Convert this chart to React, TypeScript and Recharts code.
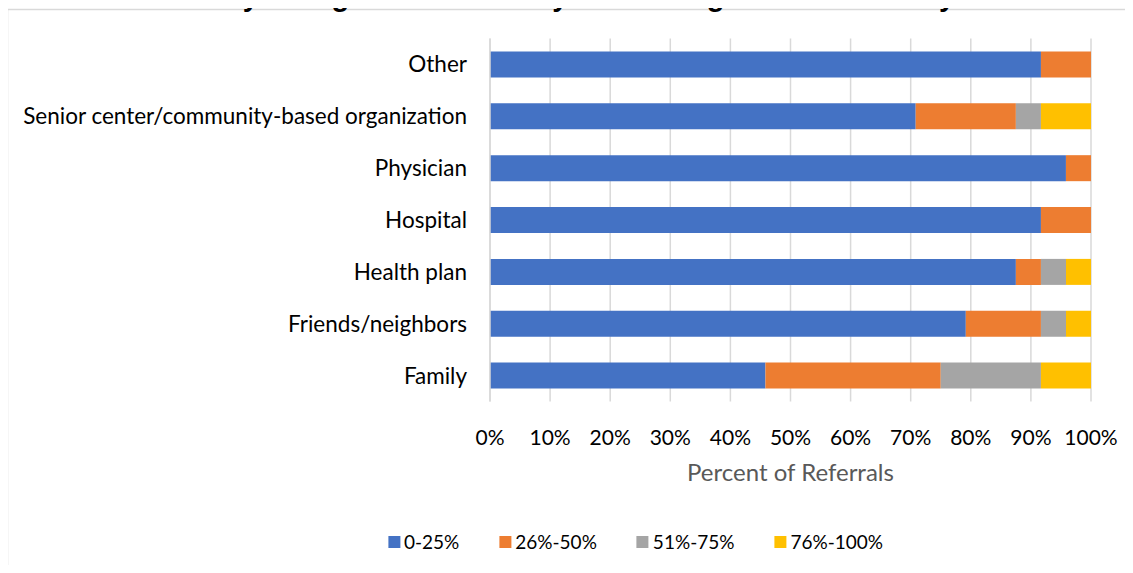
import React from "react";
import { BarChart, Bar, XAxis, YAxis, CartesianGrid } from "recharts";

const categories = [
  "Other",
  "Senior center/community-based organization",
  "Physician",
  "Hospital",
  "Health plan",
  "Friends/neighbors",
  "Family",
];
const s0to25 = [91.67, 70.83, 95.83, 91.67, 87.5, 79.17, 45.83];
const s26to50 = [8.33, 16.67, 4.17, 8.33, 4.17, 12.5, 29.17];
const s51to75 = [0, 4.17, 0, 0, 4.17, 4.17, 16.67];
const s76to100 = [0, 8.33, 0, 0, 4.16, 4.16, 8.33];
const seriesNames = ["0-25%", "26%-50%", "51%-75%", "76%-100%"];
const seriesColors = ["#4472C4", "#ED7D31", "#A5A5A5", "#FFC000"];
const xTicks = [0, 10, 20, 30, 40, 50, 60, 70, 80, 90, 100];
const title = "Family Caregiver Community-Based Organization Survey";
const xAxisTitle = "Percent of Referrals";

const seriesKeys = ["a", "b", "c", "d"];
const data = categories.map((name, i) => ({
  name,
  a: s0to25[i],
  b: s26to50[i],
  c: s51to75[i],
  d: s76to100[i],
}));

const FONT = "Lato, 'Open Sans', sans-serif";

export default function App() {
  return (
    <div
      style={{
        margin: -8,
        width: 1133,
        height: 573,
        position: "relative",
        overflow: "hidden",
        background: "#fff",
        fontFamily: FONT,
      }}
    >
      <svg
        width={1133}
        height={573}
        style={{ position: "absolute", left: 0, top: 0, pointerEvents: "none" }}
      >
        <rect x={7.5} y={9.5} width={1400} height={800} fill="none" stroke="#d9d9d9" strokeWidth={1.5} />
        <text
          x={561}
          y={5.5}
          textAnchor="middle"
          fontFamily="'Liberation Sans', Arial, sans-serif"
          fontWeight="bold"
          fontSize={29}
          fill="#000"
        >
          {title}
        </text>
      </svg>
      <div style={{ position: "absolute", left: 0, top: 0 }}>
        <BarChart
          width={1133}
          height={573}
          data={data}
          layout="vertical"
          barCategoryGap="25%"
          margin={{ top: 38.5, right: 42, bottom: 71.5, left: 0 }}
        >
          <CartesianGrid horizontal={false} vertical={true} stroke="#d9d9d9" strokeWidth={1.5} />
          <XAxis
            type="number"
            domain={[0, 100]}
            ticks={xTicks}
            tickFormatter={(v: number) => `${v}%`}
            axisLine={false}
            tickLine={false}
            tickSize={0}
            tickMargin={29}
            height={100}
            interval={0}
            tick={{ fontFamily: FONT, fontSize: 21, fill: "#000" }}
            label={{
              value: xAxisTitle,
              position: "insideBottom",
              offset: 21,
              style: { fontFamily: FONT, fontSize: 24, fill: "#595959" },
            }}
          />
          <YAxis
            type="category"
            dataKey="name"
            width={490}
            axisLine={{ stroke: "#d9d9d9", strokeWidth: 1.5 }}
            tickLine={false}
            tickSize={0}
            tickMargin={23}
            interval={0}
            tick={{ fontFamily: FONT, fontSize: 22.5, fill: "#000" }}
          />
          {seriesKeys.map((k, i) => (
            <Bar
              key={k}
              dataKey={k}
              name={seriesNames[i]}
              stackId="s"
              fill={seriesColors[i]}
              isAnimationActive={false}
            />
          ))}
        </BarChart>
      </div>
      <div
        style={{
          position: "absolute",
          left: 635.5,
          top: 530,
          transform: "translateX(-50%)",
          display: "flex",
          alignItems: "center",
          columnGap: 40,
          whiteSpace: "nowrap",
          fontFamily: FONT,
          fontSize: 19,
          color: "#000",
          lineHeight: "24px",
        }}
      >
        {seriesNames.map((n, i) => (
          <div key={n} style={{ display: "flex", alignItems: "center" }}>
            <span
              style={{
                display: "inline-block",
                width: 12,
                height: 12,
                background: seriesColors[i],
                marginRight: 4,
              }}
            />
            <span>{n}</span>
          </div>
        ))}
      </div>
    </div>
  );
}
